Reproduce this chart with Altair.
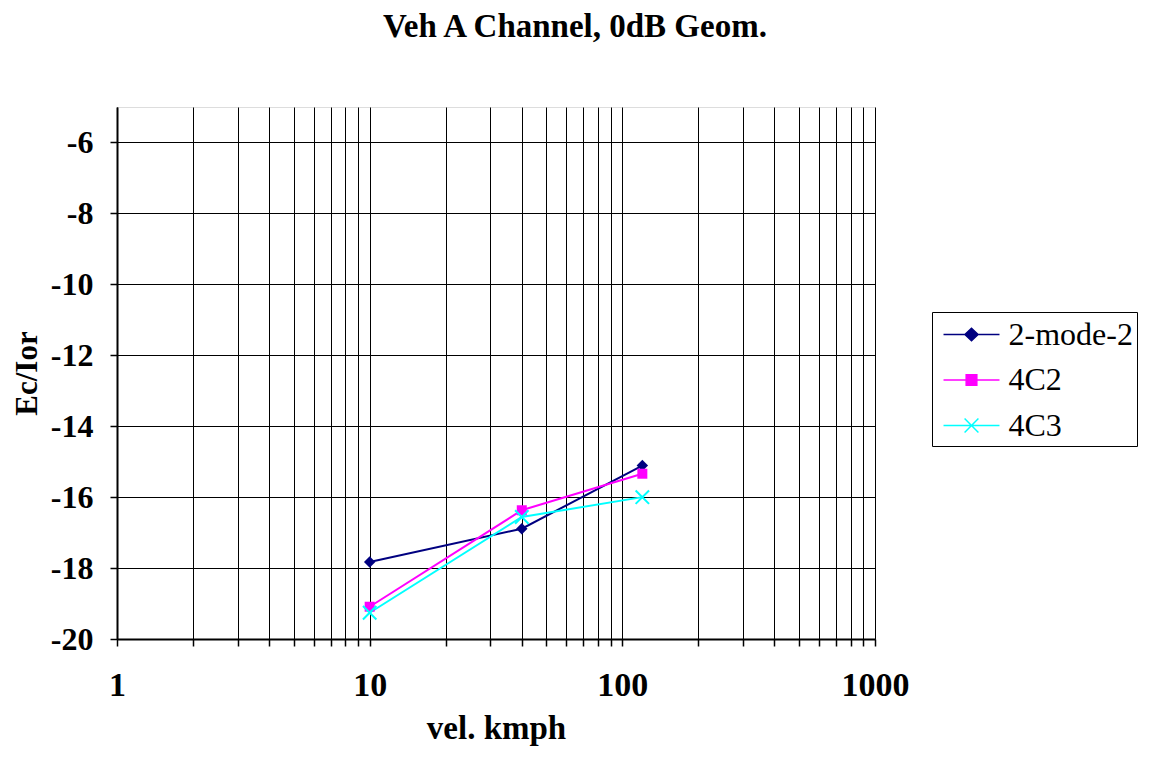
import altair as alt
import pandas as pd

# ---- data ----
series_names = ["2-mode-2", "4C2", "4C3"]
speeds = [10, 40, 120]
mode2 = [-17.83, -16.89, -15.11]
c42 = [-19.09, -16.37, -15.34]
c43 = [-19.26, -16.56, -16.0]
colors = ["#000080", "#FF00FF", "#00FFFF"]

x_ticks = [1, 2, 3, 4, 5, 6, 7, 8, 9, 10, 20, 30, 40, 50, 60, 70, 80, 90,
           100, 200, 300, 400, 500, 600, 700, 800, 900, 1000]
y_ticks = list(range(-20, -4))

rows = []
for name, vals in zip(series_names, [mode2, c42, c43]):
    for s, v in zip(speeds, vals):
        rows.append({"speed": s, "value": v, "series": name})
df = pd.DataFrame(rows)

FONT = "Liberation Serif"

def cscale():
    return alt.Scale(domain=series_names, range=colors)

x_enc = alt.X(
    "speed:Q",
    scale=alt.Scale(type="log", domain=[1, 1000], nice=False),
    axis=alt.Axis(
        values=x_ticks,
        labelExpr="(datum.value == 1 || datum.value == 10 || datum.value == 100 || datum.value == 1000) ? toString(datum.value) : ''",
        title="vel. kmph",
        labelFlush=False,
        labelOverlap=False,
        grid=True,
        gridColor="black",
        gridWidth=1,
        gridOpacity=1,
        domainColor="black",
        domainWidth=2,
        tickColor="black",
        tickSize=7,
        tickWidth=1.5,
        labelFont=FONT,
        labelFontSize=34,
        labelFontWeight="bold",
        labelColor="black",
        labelPadding=22,
        titleFont=FONT,
        titleFontSize=33,
        titleFontWeight="bold",
        titleColor="black",
        titlePadding=10,
    ),
)

y_enc = alt.Y(
    "value:Q",
    scale=alt.Scale(domain=[-20, -5], nice=False, zero=False),
    axis=alt.Axis(
        values=y_ticks,
        labelExpr="datum.value % 2 == 0 ? toString(datum.value) : ''",
        title="Ec/Ior",
        labelFlush=False,
        labelOverlap=False,
        grid=True,
        gridColor="black",
        gridWidth=1,
        gridOpacity={"condition": {"test": "datum.value % 2 != 0", "value": 0}, "value": 1},
        domainColor="black",
        domainWidth=2,
        tickColor="black",
        tickSize=7,
        tickWidth=1.5,
        labelFont=FONT,
        labelFontSize=32,
        labelFontWeight="bold",
        labelColor="black",
        labelPadding=17,
        titleFont=FONT,
        titleFontSize=31,
        titleFontWeight="bold",
        titleColor="black",
        titlePadding=7,
    ),
)

legend_shapes = [
    "M-1.577,0H1.577M0,-0.35L0.37,0L0,0.35L-0.37,0Z",
    "M-1.577,0H1.577M-0.3,-0.3H0.3V0.3H-0.3Z",
    "M-1.577,0H1.577M-0.39,-0.39L0.39,0.39M-0.39,0.39L0.39,-0.39",
]

leg_props = dict(
    title=None,
    orient="none",
    legendX=815,
    legendY=205,
    strokeColor="black",
    fillColor="white",
    padding=4,
    symbolSize=1260,
    symbolOpacity=1,
    symbolStrokeWidth=1.5,
    symbolOffset=17,
    rowPadding=10.5,
    labelOffset=18.5,
    labelFont=FONT,
    labelFontSize=32,
    labelColor="black",
)

# invisible layer that only carries the legend (line + marker symbols)
legend_layer = alt.Chart(df).mark_point(filled=True, opacity=0).encode(
    x=x_enc,
    y=y_enc,
    fill=alt.Fill("series:N", scale=cscale(), legend=alt.Legend(**leg_props)),
    stroke=alt.Stroke("series:N", scale=cscale(), legend=alt.Legend(**leg_props)),
    shape=alt.Shape(
        "series:N",
        scale=alt.Scale(domain=series_names, range=legend_shapes),
        legend=alt.Legend(**leg_props),
    ),
)

lines = alt.Chart(df).mark_line(strokeWidth=2).encode(
    x="speed:Q",
    y="value:Q",
    color=alt.Color("series:N", scale=cscale(), legend=None),
    detail="series:N",
)

pt_diamond = alt.Chart(df).transform_filter(
    alt.datum.series == series_names[0]
).mark_point(shape="diamond", filled=True, opacity=1, size=130).encode(
    x="speed:Q", y="value:Q",
    color=alt.Color("series:N", scale=cscale(), legend=None),
)

pt_square = alt.Chart(df).transform_filter(
    alt.datum.series == series_names[1]
).mark_point(shape="square", filled=True, opacity=1, size=100).encode(
    x="speed:Q", y="value:Q",
    color=alt.Color("series:N", scale=cscale(), legend=None),
)

pt_x = alt.Chart(df).transform_filter(
    alt.datum.series == series_names[2]
).mark_point(shape="M-1,-1L1,1M-1,1L1,-1", filled=False, opacity=1, size=180, strokeWidth=2).encode(
    x="speed:Q", y="value:Q",
    color=alt.Color("series:N", scale=cscale(), legend=None),
)

chart = (
    alt.layer(legend_layer, lines, pt_diamond, pt_square, pt_x)
    .properties(
        width=758,
        height=532,
        autosize=alt.AutoSizeParams(type="none"),
        padding={"left": 109, "top": 99, "right": 272, "bottom": 110},
        title=alt.TitleParams(
            "Veh A Channel, 0dB Geom.",
            font=FONT,
            fontSize=33,
            fontWeight="bold",
            color="black",
            anchor="middle",
            dx=79,
            offset=63,
        ),
    )
    .configure_view(stroke=None)
    .configure(background="white")
)

chart.save("out.html", embed_options={"renderer": "svg", "actions": False})
